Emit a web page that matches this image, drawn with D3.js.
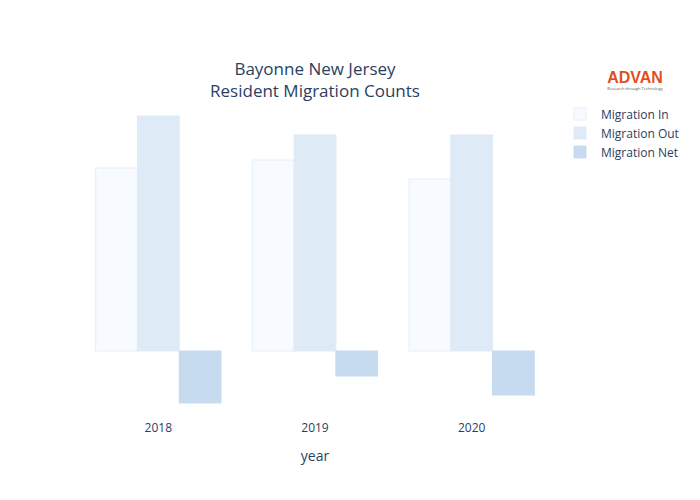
<!DOCTYPE html>
<html>
<head>
<meta charset="utf-8">
<script src="https://cdn.jsdelivr.net/npm/d3@7"></script>
<style>
  body { margin: 0; background: white; }
  text { font-family: "Open Sans", Verdana, Arial, sans-serif; }
</style>
</head>
<body>
<div id="chart"></div>
<script>
const width = 700;
const height = 500;
const marginTop = 100;
const marginRight = 150;
const marginBottom = 80;
const marginLeft = 80;

const years = ["2018", "2019", "2020"];
const seriesNames = ["Migration In", "Migration Out", "Migration Net"];
const migrationIn = [9150, 9550, 8600];
const migrationOut = [11750, 10800, 10800];
const migrationNet = [-2600, -1250, -2200];
const colors = ["#f7fbff", "#deebf7", "#c6dbef"];

const series = [migrationIn, migrationOut, migrationNet];

const svg = d3.select("#chart").append("svg")
    .attr("width", width)
    .attr("height", height);

const x = d3.scaleBand()
    .domain(years)
    .range([marginLeft, width - marginRight])
    .paddingInner(0.2)
    .paddingOuter(0.1);

const xSub = d3.scaleBand()
    .domain(seriesNames)
    .range([0, x.bandwidth()]);

const y = d3.scaleLinear()
    .domain([-3450, 12550])
    .range([height - marginBottom, marginTop]);

// bars
series.forEach((vals, i) => {
    svg.append("g").selectAll("rect")
        .data(vals)
        .join("rect")
        .attr("x", (d, j) => x(years[j]) + xSub(seriesNames[i]))
        .attr("width", xSub.bandwidth())
        .attr("y", d => y(Math.max(0, d)))
        .attr("height", d => Math.abs(y(d) - y(0)))
        .attr("fill", colors[i])
        .attr("stroke", i === 0 ? "#e8eef6" : colors[i])
        .attr("stroke-width", 1);
});

// x axis
const xAxis = svg.append("g")
    .attr("transform", `translate(0,${height - marginBottom + 1})`)
    .call(d3.axisBottom(x).tickSize(0).tickPadding(0));
xAxis.select(".domain").remove();
xAxis.selectAll("text")
    .attr("dy", "0.9em")
    .attr("fill", "#2a3f5f")
    .style("font-size", "12px");

svg.append("text")
    .attr("x", (marginLeft + width - marginRight) / 2)
    .attr("y", 461)
    .attr("text-anchor", "middle")
    .attr("fill", "#2a3f5f")
    .style("font-size", "14px")
    .text("year");

// title
const title = svg.append("text")
    .attr("x", 315)
    .attr("text-anchor", "middle")
    .attr("fill", "#2a3f5f")
    .style("font-size", "17px");
title.append("tspan").attr("x", 315).attr("y", 75).text("Bayonne New Jersey");
title.append("tspan").attr("x", 315).attr("y", 97).text("Resident Migration Counts");

// logo
svg.append("text")
    .attr("x", 635)
    .attr("y", 83)
    .attr("text-anchor", "middle")
    .attr("fill", "#e0501e")
    .style("font-size", "16px")
    .style("font-family", "Arial, sans-serif")
    .style("font-weight", "bold")
    .text("ADVAN");
svg.append("text")
    .attr("x", 635)
    .attr("y", 90)
    .attr("text-anchor", "middle")
    .attr("fill", "#555")
    .style("font-size", "4px")
    .text("Research through Technology");

// legend
const legend = svg.append("g").attr("transform", "translate(574,114)");
seriesNames.forEach((name, i) => {
    const g = legend.append("g").attr("transform", `translate(0,${i * 19})`);
    g.append("rect")
        .attr("x", 0).attr("y", -6)
        .attr("width", 12).attr("height", 12)
        .attr("fill", colors[i])
        .attr("stroke", i === 0 ? "#e8eef6" : colors[i]);
    g.append("text")
        .attr("x", 27).attr("y", 4.5)
        .attr("fill", "#2a3f5f")
        .style("font-size", "12px")
        .text(name);
});
</script>
</body>
</html>
